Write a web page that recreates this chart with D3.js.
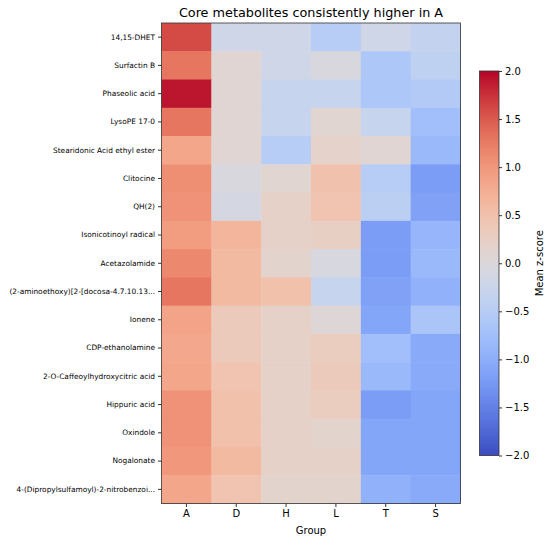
<!DOCTYPE html>
<html>
<head>
<meta charset="utf-8">
<script src="https://cdn.jsdelivr.net/npm/d3@7"></script>
<style>
  body { margin: 0; background: #fff; }
  text { font-family: "DejaVu Sans", sans-serif; fill: #000; }
</style>
</head>
<body>
<div id="chart"></div>
<script>
// Data
const groups = ["A", "D", "H", "L", "T", "S"];
const metabolites = [
  "14,15-DHET",
  "Surfactin B",
  "Phaseolic acid",
  "LysoPE 17-0",
  "Stearidonic Acid ethyl ester",
  "Clitocine",
  "QH(2)",
  "Isonicotinoyl radical",
  "Acetazolamide",
  "(2-aminoethoxy)[2-[docosa-4.7.10.13...",
  "Ionene",
  "CDP-ethanolamine",
  "2-O-Caffeoylhydroxycitric acid",
  "Hippuric acid",
  "Oxindole",
  "Nogalonate",
  "4-(Dipropylsulfamoyl)-2-nitrobenzoi..."
];
// mean z-score per metabolite, in group order A D H L T S
const zScores = [
  [1.60, -0.20, -0.20, -0.50, -0.20, -0.35],
  [1.30,  0.08, -0.20, -0.05, -0.62, -0.40],
  [1.90,  0.08, -0.30, -0.30, -0.62, -0.55],
  [1.30,  0.08, -0.30,  0.10, -0.30, -0.75],
  [0.85,  0.08, -0.50,  0.18,  0.08, -0.85],
  [1.08, -0.05,  0.10,  0.48, -0.50, -1.20],
  [1.05, -0.10,  0.20,  0.45, -0.45, -1.15],
  [0.95,  0.65,  0.20,  0.25, -1.20, -0.90],
  [1.15,  0.60,  0.15, -0.08, -1.20, -0.85],
  [1.30,  0.60,  0.50, -0.30, -1.15, -0.95],
  [0.88,  0.35,  0.20,  0.05, -1.10, -0.65],
  [0.82,  0.35,  0.20,  0.30, -0.75, -1.05],
  [0.85,  0.45,  0.20,  0.35, -0.85, -1.05],
  [1.05,  0.50,  0.20,  0.30, -1.20, -1.10],
  [1.05,  0.50,  0.20,  0.15, -1.10, -1.10],
  [1.00,  0.60,  0.20,  0.20, -1.10, -1.10],
  [0.85,  0.45,  0.15,  0.15, -0.95, -1.05]
];
const colorTicks = [-2, -1.5, -1, -0.5, 0, 0.5, 1, 1.5, 2];

// matplotlib coolwarm anchor colours
const coolwarm = d3.interpolateRgbBasis([
  "#3b4cc0", "#6282ea", "#8db0fe", "#b8d0f9", "#dddddd",
  "#f5c4ac", "#f49a7b", "#de604d", "#b40426"
]);

const width = 550, height = 542;
const box = { left: 161.5, right: 460.5, top: 23, bottom: 503.5 };
const cbar = { left: 479.5, right: 499, top: 71, bottom: 455.5 };

const svg = d3.select("#chart").append("svg")
  .attr("width", width)
  .attr("height", height);

const x = d3.scaleBand().domain(groups).range([box.left, box.right]);
const y = d3.scaleBand().domain(metabolites).range([box.top, box.bottom]);
const z = d3.scaleSequential(coolwarm).domain([-2, 2]);

// cells
const cells = [];
metabolites.forEach((m, i) => {
  groups.forEach((g, j) => cells.push({ m, g, v: zScores[i][j] }));
});

svg.append("g")
  .selectAll("rect")
  .data(cells)
  .join("rect")
  .attr("x", d => x(d.g))
  .attr("y", d => y(d.m))
  .attr("width", x.bandwidth() + 0.5)
  .attr("height", y.bandwidth() + 0.5)
  .attr("fill", d => z(d.v));

svg.append("rect")
  .attr("x", box.left).attr("y", box.top)
  .attr("width", box.right - box.left)
  .attr("height", box.bottom - box.top)
  .attr("fill", "none")
  .attr("stroke", "#333")
  .attr("stroke-width", 0.8);

// axes
const yAxis = svg.append("g")
  .attr("transform", `translate(${box.left},0)`)
  .call(d3.axisLeft(y).tickSize(3.5).tickPadding(3));
yAxis.select(".domain").remove();
yAxis.selectAll("text").style("font-size", "7.4px");
yAxis.selectAll("line").attr("stroke", "#333");

const xAxis = svg.append("g")
  .attr("transform", `translate(0,${box.bottom})`)
  .call(d3.axisBottom(x).tickSize(3.5).tickPadding(3));
xAxis.select(".domain").remove();
xAxis.selectAll("text").style("font-size", "10px");
xAxis.selectAll("line").attr("stroke", "#333");

svg.append("text")
  .attr("x", (box.left + box.right) / 2)
  .attr("y", 534)
  .attr("text-anchor", "middle")
  .style("font-size", "10px")
  .text("Group");

svg.append("text")
  .attr("x", (box.left + box.right) / 2)
  .attr("y", 17)
  .attr("text-anchor", "middle")
  .style("font-size", "12.8px")
  .text("Core metabolites consistently higher in A");

// colour bar
const defs = svg.append("defs");
const grad = defs.append("linearGradient")
  .attr("id", "cbar-grad")
  .attr("x1", 0).attr("y1", 1).attr("x2", 0).attr("y2", 0);
d3.range(0, 1.0001, 0.05).forEach(t => {
  grad.append("stop")
    .attr("offset", t)
    .attr("stop-color", coolwarm(t));
});

svg.append("rect")
  .attr("x", cbar.left).attr("y", cbar.top)
  .attr("width", cbar.right - cbar.left)
  .attr("height", cbar.bottom - cbar.top)
  .attr("fill", "url(#cbar-grad)")
  .attr("stroke", "#333")
  .attr("stroke-width", 0.8);

const c = d3.scaleLinear().domain([-2, 2]).range([cbar.bottom, cbar.top]);
const cAxis = svg.append("g")
  .attr("transform", `translate(${cbar.right},0)`)
  .call(d3.axisRight(c)
    .tickValues(colorTicks)
    .tickSize(3)
    .tickPadding(3)
    .tickFormat(d => d3.format(".1f")(d).replace("-", "\u2212")));
cAxis.select(".domain").remove();
cAxis.selectAll("text").style("font-size", "10px");
cAxis.selectAll("line").attr("stroke", "#333");

svg.append("text")
  .attr("transform", `translate(543,${(cbar.top + cbar.bottom) / 2}) rotate(-90)`)
  .attr("text-anchor", "middle")
  .style("font-size", "10px")
  .text("Mean z-score");
</script>
</body>
</html>
